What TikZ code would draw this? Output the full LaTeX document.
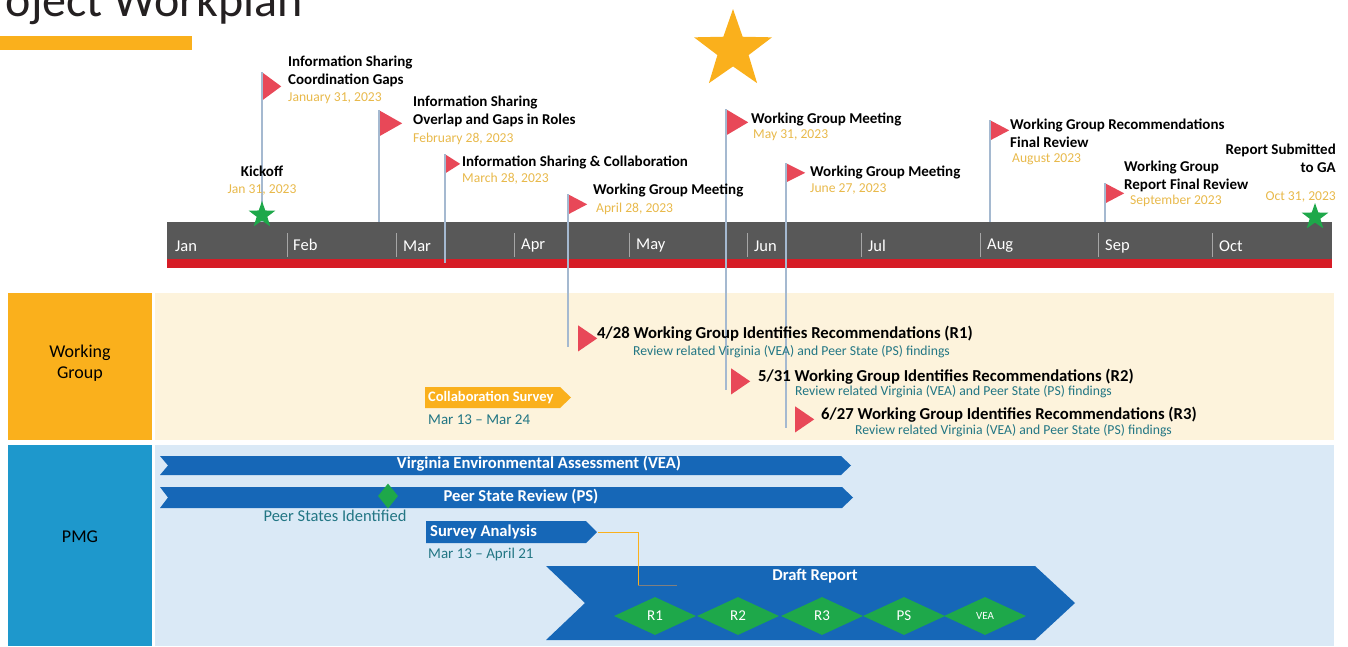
\documentclass[tikz,border=0pt]{standalone}
\usepackage{fontspec}
\setmainfont{Carlito}
\usetikzlibrary{shapes.geometric}

\definecolor{wgorange}{RGB}{250,176,28}
\definecolor{flagred}{RGB}{232,72,88}
\definecolor{dategold}{RGB}{232,185,75}
\definecolor{mstgreen}{RGB}{30,168,74}
\definecolor{bargray}{RGB}{88,88,88}
\definecolor{barred}{RGB}{214,28,38}
\definecolor{polegray}{RGB}{165,185,208}
\definecolor{wgcream}{RGB}{253,243,220}
\definecolor{pmgblue}{RGB}{30,152,204}
\definecolor{pmglight}{RGB}{218,233,246}
\definecolor{taskblue}{RGB}{22,103,183}
\definecolor{tealtext}{RGB}{34,118,132}
\definecolor{titletext}{RGB}{36,32,33}

\begin{document}
\begin{tikzpicture}[x=1pt, y=-1pt,
    flag/.style={isosceles triangle, isosceles triangle stretches, fill=flagred, inner sep=0, minimum width=26, minimum height=19, anchor=left corner},
    pole/.style={polegray, line width=1.2pt},
    mlabel/.style={anchor=west, inner sep=0, align=left, font=\bfseries\fontsize{15}{18}\selectfont},
    mdate/.style={anchor=west, inner sep=0, text=dategold, font=\fontsize{13.6}{15}\selectfont},
    month/.style={anchor=west, inner sep=0, text=white, font=\fontsize{16.5}{16.5}\selectfont},
    sepline/.style={gray!70, line width=0.8pt},
    rectext/.style={anchor=west, inner sep=0, font=\bfseries\fontsize{16.7}{16.7}\selectfont},
    recsub/.style={anchor=west, inner sep=0, text=tealtext, font=\fontsize{13.7}{14}\selectfont},
    tasktext/.style={inner sep=0, text=white, font=\bfseries\fontsize{16.6}{16.6}\selectfont},
    tealnote/.style={anchor=west, inner sep=0, text=tealtext, font=\fontsize{15}{15}\selectfont},
    gem/.style={diamond, fill=mstgreen, inner sep=0, text=white, font=\fontsize{15}{15}\selectfont},
    mstar/.style={star, star points=5, star point ratio=2.5, fill=mstgreen, inner sep=0, minimum size=28}]
    \useasboundingbox (0,0) rectangle (1348,646);

    % Title
    \begin{scope}
        \clip (0,0) rectangle (1348,646);
        \node[anchor=base east, inner sep=0, text=titletext, font=\fontsize{48}{48}\selectfont] (title) at (303,16) {Project Workplan};
    \end{scope}
    \fill[wgorange] (0,36) rectangle (192,50);

    % Lanes
    \fill[wgorange] (8,293) rectangle (152,440);
    \fill[wgcream] (155,293) rectangle (1334,440);
    \fill[pmgblue] (8,445) rectangle (152,646);
    \fill[pmglight] (155,445) rectangle (1334,646);
    \node[align=center, font=\fontsize{18}{21}\selectfont] (wgLane) at (80,363) {Working\\Group};
    \node[font=\fontsize{18}{21}\selectfont] (pmgLane) at (80,537) {PMG};

    % Timeline bar
    \node[fill=bargray, anchor=north west, inner sep=0, minimum width=1165, minimum height=37] (bar) at (167,222) {};
    \fill[barred] (167,259) rectangle (1332,268);
    \draw[sepline] (287,233) -- (287,257);
    \draw[sepline] (396,233) -- (396,257);
    \draw[sepline] (514,233) -- (514,257);
    \draw[sepline] (629,233) -- (629,257);
    \draw[sepline] (747,233) -- (747,257);
    \draw[sepline] (861,233) -- (861,257);
    \draw[sepline] (980,233) -- (980,257);
    \draw[sepline] (1098,233) -- (1098,257);
    \draw[sepline] (1212,233) -- (1212,257);
    \node[month] (mJan) at (175,246) {Jan};
    \node[month] (mFeb) at (293,245) {Feb};
    \node[month] (mMar) at (403,246) {Mar};
    \node[month] (mApr) at (521,246) {Apr};
    \node[month] (mMay) at (636,246) {May};
    \node[month] (mJun) at (754,246) {Jun};
    \node[month] (mJul) at (868,246) {Jul};
    \node[month] (mAug) at (987,246) {Aug};
    \node[month] (mSep) at (1105,246) {Sep};
    \node[month] (mOct) at (1219,246) {Oct};

    % Working group recommendation flags
    \node[flag] (rApr) at (578,325) {};
    \node[flag] (rMay) at (731,368) {};
    \node[flag] (rJun) at (795,406) {};

    % Milestone flags
    \node[flag, minimum width=28] (fCoord) at (262,72) {};
    \node[flag, minimum height=23] (fRoles) at (379,110) {};
    \node[flag, minimum width=19, minimum height=15] (fCollab) at (445,154) {};
    \node[flag, minimum width=20] (fApr) at (568,194) {};
    \node[flag, minimum height=22] (fMay) at (726,109) {};
    \node[flag, minimum width=19] (fJun) at (786,163) {};
    \node[flag, minimum width=20] (fAug) at (990,120) {};
    \node[flag, minimum width=20] (fSep) at (1105,183) {};

    % Poles
    \draw[pole] (fCoord.left corner) -- (fCoord.left corner |- bar.north);
    \draw[pole] (fRoles.left corner) -- (fRoles.left corner |- bar.north);
    \draw[pole] (fCollab.left corner) -- ([yshift=-4pt]fCollab.left corner |- bar.south);
    \draw[pole] (fApr.left corner) -- (fApr.left corner |- rApr.south);
    \draw[pole] (fMay.left corner) -- (fMay.left corner |- rMay.south);
    \draw[pole] (fJun.left corner) -- (fJun.left corner |- rJun.south);
    \draw[pole] (fAug.left corner) -- (fAug.left corner |- bar.north);
    \draw[pole] (fSep.left corner) -- (fSep.left corner |- bar.north);

    % Milestone texts
    \node[mlabel] (lCoord) at (288,71) {Information Sharing\\Coordination Gaps};
    \node[mdate] (dCoord) at (288,98) {January 31, 2023};
    \node[mlabel] (lRoles) at (413,111) {Information Sharing\\Overlap and Gaps in Roles};
    \node[mdate] (dRoles) at (413,139) {February 28, 2023};
    \node[mlabel] (lCollab) at (462,162) {Information Sharing \& Collaboration};
    \node[mdate] (dCollab) at (462,179) {March 28, 2023};
    \node[mlabel] (lApr) at (593,190) {Working Group Meeting};
    \node[mdate] (dApr) at (596,209) {April 28, 2023};
    \node[mlabel] (lMay) at (751,119) {Working Group Meeting};
    \node[mdate] (dMay) at (753,135) {May 31, 2023};
    \node[mlabel] (lJun) at (810,172) {Working Group Meeting};
    \node[mdate] (dJun) at (810,189) {June 27, 2023};
    \node[mlabel] (lAug) at (1010,133) {Working Group Recommendations\\Final Review};
    \node[mdate] (dAug) at (1012,159) {August 2023};
    \node[mlabel] (lSep) at (1124,176) {Working Group\\Report Final Review};
    \node[mdate] (dSep) at (1130,201) {September 2023};

    % Kickoff and submission
    \node[mlabel, anchor=center] (lKick) at (262,171) {Kickoff};
    \node[mdate, anchor=center] (dKick) at (262,190) {Jan 31, 2023};
    \node[mstar] (sKick) at (262,215) {};
    \node[mlabel, anchor=east, align=right] (lGA) at (1336,158) {Report Submitted\\to GA};
    \node[mdate, anchor=east] (dGA) at (1336,197) {Oct 31, 2023};
    \node[mstar] (sGA) at (1315,217) {};
    \node[star, star points=5, star point ratio=2.5, fill=wgorange, inner sep=0, minimum size=82] (bigStar) at (733,50) {};

    % Working group lane
    \node[rectext] (tApr) at (597,334) {4/28 Working Group Identifies Recommendations (R1)};
    \node[recsub] (sApr) at (633,352) {Review related Virginia (VEA) and Peer State (PS) findings};
    \node[rectext] (tMay) at (758,377) {5/31 Working Group Identifies Recommendations (R2)};
    \node[recsub] (sMay) at (795,392) {Review related Virginia (VEA) and Peer State (PS) findings};
    \node[rectext] (tJun) at (821,415) {6/27 Working Group Identifies Recommendations (R3)};
    \node[recsub] (sJun) at (855,431) {Review related Virginia (VEA) and Peer State (PS) findings};
    \fill[wgorange] (425,387) -- (560,387) -- (571,397.5) -- (560,408) -- (425,408) -- cycle;
    \node[tasktext, anchor=west, font=\bfseries\fontsize{14.5}{14.5}\selectfont] (tSurvey) at (428,397.5) {Collaboration Survey};
    \node[tealnote] (dSurvey) at (428,420) {Mar 13 – Mar 24};

    % PMG lane
    \fill[taskblue] (160,456) -- (841,456) -- (851,465.5) -- (841,475) -- (160,475) -- (168,465.5) -- cycle;
    \node[tasktext] (tVEA) at (539,464) {Virginia Environmental Assessment (VEA)};
    \fill[taskblue] (160,487) -- (842,487) -- (853,497.5) -- (842,508) -- (160,508) -- (168,497.5) -- cycle;
    \node[tasktext] (tPS) at (521,497) {Peer State Review (PS)};
    \node[gem, minimum width=20, minimum height=25] (gPeer) at (388,496) {};
    \node[text=tealtext, font=\fontsize{16.5}{16.5}\selectfont] (lPeer) at (335,516) {Peer States Identified};
    \fill[taskblue] (426,521) -- (586,521) -- (597,532) -- (586,543) -- (426,543) -- cycle;
    \node[tasktext, anchor=west] (tAnalysis) at (430,532) {Survey Analysis};
    \node[tealnote] (dAnalysis) at (428,554) {Mar 13 – April 21};

    % Draft report
    \fill[taskblue] (546,566) -- (1035,566) -- (1075,603) -- (1035,640) -- (546,640) -- (585,603) -- cycle;
    \node[tasktext] (tDraft) at (815,576) {Draft Report};
    \node[gem, minimum width=82, minimum height=38] (gR1) at (655,616) {R1};
    \node[gem, minimum width=82, minimum height=38] (gR2) at (738,616) {R2};
    \node[gem, minimum width=82, minimum height=38] (gR3) at (822,616) {R3};
    \node[gem, minimum width=82, minimum height=38] (gPS) at (904,616) {PS};
    \node[gem, minimum width=82, minimum height=38, font=\fontsize{11}{11}\selectfont] (gVEA) at (985,616) {VEA};

    % Survey analysis feed
    \coordinate (feedStart) at (598,532);
    \coordinate (feedBend) at (638,585);
    \coordinate (feedEnd) at (677,585);
    \draw[wgorange, line width=1pt] (feedStart) -| (feedBend);
    \draw[gray, line width=0.8pt] (feedBend) -- (feedEnd);
\end{tikzpicture}
\end{document}
